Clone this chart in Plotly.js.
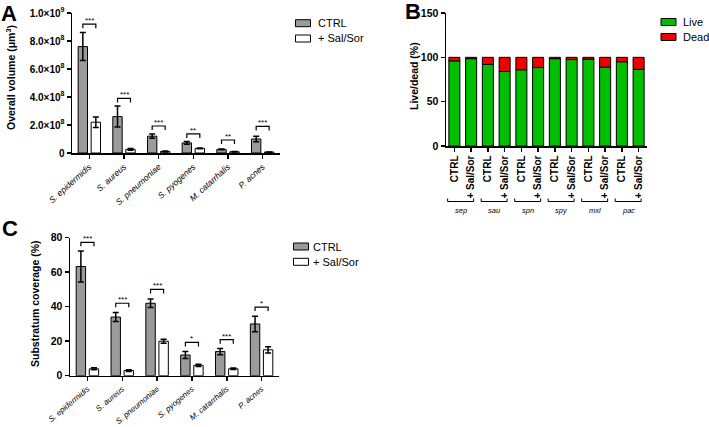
<!DOCTYPE html>
<html><head><meta charset="utf-8">
<script src="https://cdn.plot.ly/plotly-3.0.1.min.js"></script>
<style>html,body{margin:0;padding:0;background:#fff}#chart{width:709px;height:427px}</style>
</head><body><div id="chart"></div>
<script>
// ---- data ----
const species = ['S. epidermidis','S. aureus','S. pneumoniae','S. pyogenes','M. catarrhalis','P. acnes'];
const seriesNames = ['CTRL', '+ Sal/Sor'];
// Panel A: overall volume (µm^3)
const volCtrl    = [7.6e8, 2.6e8, 1.2e8, 0.72e8, 0.26e8, 1.0e8];
const volCtrlErr = [1.0e8, 0.75e8, 0.15e8, 0.1e8, 0.03e8, 0.2e8];
const volSal     = [2.2e8, 0.26e8, 0.11e8, 0.33e8, 0.09e8, 0.07e8];
const volSalErr  = [0.37e8, 0.06e8, 0.03e8, 0.03e8, 0.02e8, 0.01e8];
const volSig     = ['***','***','***','**','**','***'];
const volSigY    = [9.2e8, 3.9e8, 1.93e8, 1.36e8, 0.93e8, 1.9e8];
const volTickVals = [0, 2e8, 4e8, 6e8, 8e8, 1e9];
const volTickText = ['0','2.0×10<sup>8</sup>','4.0×10<sup>8</sup>','6.0×10<sup>8</sup>','8.0×10<sup>8</sup>','1.0×10<sup>9</sup>'];
// Panel B: live/dead (%)
const groups = ['sep','sau','spn','spy','mxl','pac'];
const stateNames = ['Live', 'Dead'];
const conditions = ['CTRL','+ Sal/Sor','CTRL','+ Sal/Sor','CTRL','+ Sal/Sor','CTRL','+ Sal/Sor','CTRL','+ Sal/Sor','CTRL','+ Sal/Sor'];
const live = [96, 98.5, 92, 84, 86, 88.5, 98.5, 97.5, 98, 89, 95, 86.5];
const dead = [4, 1.5, 8, 16, 14, 11.5, 1.5, 2.5, 2, 11, 5, 13.5];
const ldTickVals = [0, 50, 100, 150];
// Panel C: substratum coverage (%)
const covCtrl    = [63.3, 34, 42, 12, 14, 30];
const covCtrlErr = [9, 2.6, 2.5, 2, 1.8, 4.5];
const covSal     = [4, 3, 20, 6, 4, 15];
const covSalErr  = [0.6, 0.5, 1.2, 0.7, 0.4, 1.8];
const covSig     = ['***','***','***','*','***','*'];
const covSigY    = [77.3, 42, 50, 19.3, 20.9, 39.8];
const covTickVals = [0, 20, 40, 60, 80];

// ---- build ----
const W = 709, H = 427;
const px = v => v / W, py = v => 1 - v / H;
const idx = species.map((_, i) => i);
const idxB = conditions.map((_, i) => i);
const FONT = 'Liberation Sans, Arial, sans-serif';
const PAIR_COLORS = ['#9b9b9b', '#ffffff'];
const STATE_COLORS = ['#00bf00', '#f00000'];
const BW = 0.27, HALF = 0.1875;

function errObj(arr){ return {type:'data', array:arr, visible:true, color:'#000', thickness:1.5, width:3}; }
function barPair(ctrl, ctrlErr, sal, salErr, xa, ya){
  return [
    {type:'bar', name:seriesNames[0], x:idx, y:ctrl, xaxis:xa, yaxis:ya,
     width:BW, offset:-HALF-BW/2, marker:{color:PAIR_COLORS[0], line:{color:'#000', width:1}}, error_y:errObj(ctrlErr)},
    {type:'bar', name:seriesNames[1], x:idx, y:sal, xaxis:xa, yaxis:ya,
     width:BW, offset:HALF-BW/2, marker:{color:PAIR_COLORS[1], line:{color:'#000', width:1}}, error_y:errObj(salErr)}
  ];
}
const data = [
  ...barPair(volCtrl, volCtrlErr, volSal, volSalErr, 'x', 'y'),
  {type:'bar', name:stateNames[0], x:idxB, y:live, xaxis:'x2', yaxis:'y2',
   width:0.66, offset:-0.33, marker:{color:STATE_COLORS[0], line:{color:'#000', width:1}}},
  {type:'bar', name:stateNames[1], x:idxB, y:dead, base:live, xaxis:'x2', yaxis:'y2',
   width:0.66, offset:-0.33, marker:{color:STATE_COLORS[1], line:{color:'#000', width:1}}},
  ...barPair(covCtrl, covCtrlErr, covSal, covSalErr, 'x3', 'y3')
];

const axLine = {showline:true, linecolor:'#000', linewidth:1.5, showgrid:false, zeroline:false,
  ticks:'outside', ticklen:4, tickwidth:1.5, tickcolor:'#000'};
const ytf = {family:FONT, size:10, color:'#000', weight:700};
const xtf = {family:FONT, size:8.5, color:'#000', style:'italic'};

const shapes = [], annotations = [];
function sigMarks(sig, sigY, xa, ya){
  sig.forEach((s, i) => {
    shapes.push({type:'path', xref:xa, yref:ya, ysizemode:'pixel', yanchor:sigY[i],
      path:`M${i-HALF},-4 L${i-HALF},0 L${i+HALF},0 L${i+HALF},-4`, line:{color:'#000', width:1.2}});
    annotations.push({xref:xa, yref:ya, x:i, y:sigY[i], text:s, showarrow:false, xanchor:'center', yanchor:'bottom', yshift:-3,
      font:{family:FONT, size:8, color:'#000'}});
  });
}
sigMarks(volSig, volSigY, 'x', 'y');
sigMarks(covSig, covSigY, 'x3', 'y3');
groups.forEach((g, i) => {
  const x0 = 2*i - 0.4, x1 = 2*i + 1.15;
  shapes.push({type:'path', xref:'x2', yref:'paper', ysizemode:'pixel', yanchor:py(201.5),
    path:`M${x0},3 L${x0},0 L${x1},0 L${x1},3`, line:{color:'#000', width:1}});
  annotations.push({xref:'x2', yref:'paper', x:(x0+x1)/2, y:py(210.5), text:g, showarrow:false,
    xanchor:'center', yanchor:'middle', font:{family:FONT, size:7.5, color:'#000', style:'italic'}});
});
// panel letters
[['A', 9, 13], ['B', 413, 11], ['C', 10, 228]].forEach(([t, x, y]) => {
  annotations.push({xref:'paper', yref:'paper', x:px(x), y:py(y), text:t, showarrow:false,
    xanchor:'center', yanchor:'middle', font:{family:FONT, size:22, color:'#000', weight:700}});
});
// axis titles
[['Overall volume (μm<sup>3</sup>)', 11, 78], ['Live/dead (%)', 414, 76], ['Substratum coverage (%)', 35, 304]].forEach(([t, x, y]) => {
  annotations.push({xref:'paper', yref:'paper', x:px(x), y:py(y), text:t, textangle:-90, showarrow:false,
    xanchor:'center', yanchor:'middle', font:{family:FONT, size:10.5, color:'#000', weight:700}});
});
// legends (swatch + label)
function legend(names, colors, boxX, textX, rowsY){
  names.forEach((n, i) => {
    shapes.push({type:'rect', xref:'paper', yref:'paper', x0:px(boxX), x1:px(boxX+15), y0:py(rowsY[i]-3.5), y1:py(rowsY[i]+3.5),
      fillcolor:colors[i], line:{color:'#000', width:1}});
    annotations.push({xref:'paper', yref:'paper', x:px(textX), y:py(rowsY[i]), text:n, showarrow:false,
      xanchor:'left', yanchor:'middle', font:{family:FONT, size:11, color:'#000'}});
  });
}
legend(seriesNames, PAIR_COLORS, 295.5, 316, [23.2, 38.5]);
legend(stateNames, STATE_COLORS, 661, 680.5, [22, 37]);
legend(seriesNames, PAIR_COLORS, 293.5, 311, [246.5, 261.8]);

const layout = {
  width:W, height:H, margin:{l:0, r:0, t:0, b:0}, paper_bgcolor:'#fff', plot_bgcolor:'#fff',
  font:{family:FONT, color:'#000'}, barmode:'overlay', showlegend:false,
  xaxis:{...axLine, domain:[px(72), px(280)], anchor:'y', range:[-0.5, 5.5], tickvals:idx, ticktext:species,
    tickangle:-42, tickfont:xtf},
  yaxis:{...axLine, domain:[py(153), py(13)], anchor:'x', range:[0, 1e9], tickvals:volTickVals, ticktext:volTickText,
    tickfont:ytf},
  xaxis2:{...axLine, domain:[px(446), px(647)], anchor:'y2', range:[-0.5, 11.5], tickvals:idxB, ticktext:conditions,
    tickangle:-90, tickfont:{family:FONT, size:10, color:'#000', weight:700}},
  yaxis2:{...axLine, domain:[py(146), py(13)], anchor:'x2', range:[0, 150], tickvals:ldTickVals,
    tickfont:{...ytf, size:10.5}},
  xaxis3:{...axLine, domain:[px(70), px(279)], anchor:'y3', range:[-0.5, 5.5], tickvals:idx, ticktext:species,
    tickangle:-40, tickfont:{...xtf, size:8}},
  yaxis3:{...axLine, domain:[py(375.7), py(237.7)], anchor:'x3', range:[0, 80], tickvals:covTickVals,
    tickfont:{...ytf, size:10.5}},
  shapes, annotations
};
Plotly.newPlot('chart', data, layout, {staticPlot:true, displayModeBar:false});
</script></body></html>
